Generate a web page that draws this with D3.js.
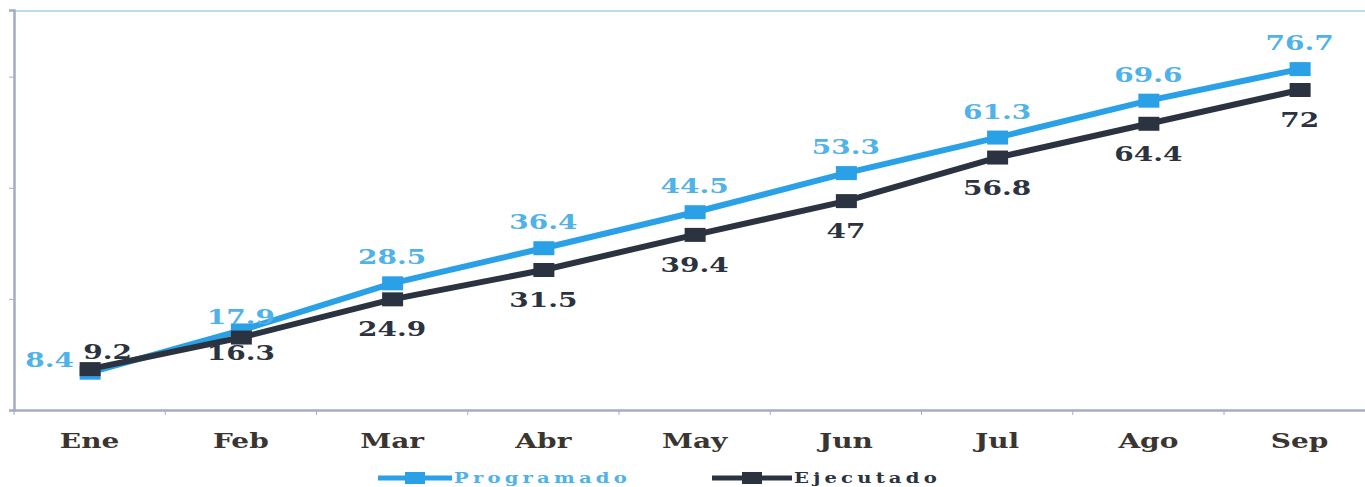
<!DOCTYPE html>
<html>
<head>
<meta charset="utf-8">
<script src="https://cdn.jsdelivr.net/npm/d3@7"></script>
<style>
  html, body { margin: 0; padding: 0; background: #fff; overflow: hidden; }
  svg { display: block; }
</style>
</head>
<body>
<svg id="chart" width="1365" height="487"></svg>
<script>
const categories = ["Ene", "Feb", "Mar", "Abr", "May", "Jun", "Jul", "Ago", "Sep"];
const programado = [8.4, 17.9, 28.5, 36.4, 44.5, 53.3, 61.3, 69.6, 76.7];
const ejecutado = [9.2, 16.3, 24.9, 31.5, 39.4, 47, 56.8, 64.4, 72];
const seriesNames = ["Programado", "Ejecutado"];
const yTicks = [0, 25, 50, 75];

const BLUE = "#2aa0e6", BLUE_TXT = "#4fb2e8", DARK = "#2c3340";
const FONT = "'DejaVu Serif', serif";
const SX = 1.4;

const svg = d3.select("#chart");
const x = d3.scaleBand().domain(categories).range([14, 14 + 9 * 151.25]).padding(0);
const y = d3.scaleLinear().domain([0, 90]).range([410, 10]);
const cx = c => x(c) + x.bandwidth() / 2;

// top border
svg.append("line").attr("x1", 14).attr("x2", 1365).attr("y1", 11).attr("y2", 11)
  .attr("stroke", "#b9dcef").attr("stroke-width", 2);

// y axis
const yAxis = svg.append("g").attr("transform", "translate(14,0)")
  .call(d3.axisLeft(y).tickValues(yTicks).tickSize(5).tickFormat(""));
yAxis.select(".domain").attr("stroke", "#a3acc4").attr("stroke-width", 2.5);
yAxis.selectAll(".tick line").attr("stroke", "#a3acc4");

// x axis
const xAxis = svg.append("g").attr("transform", "translate(0,410)")
  .call(d3.axisBottom(x).tickSize(0).tickFormat(""));
xAxis.select(".domain").attr("stroke", "#a3acc4").attr("stroke-width", 2.5);
xAxis.selectAll(".tick").remove();
xAxis.selectAll(".btick").data(categories).enter().append("line")
  .attr("x1", d => x(d)).attr("x2", d => x(d)).attr("y1", 0).attr("y2", 5)
  .attr("stroke", "#a3acc4");

// x labels
svg.append("g").selectAll("text").data(categories).enter().append("text")
  .attr("transform", d => `translate(${cx(d)},448) scale(${SX},1)`)
  .attr("text-anchor", "middle").attr("font-family", FONT).attr("font-weight", "bold")
  .attr("font-size", 20).attr("fill", "#3a3530").text(d => d);

const line = d3.line().x((d, i) => cx(categories[i])).y(d => y(d));

function drawSeries(vals, color) {
  svg.append("path").datum(vals).attr("d", line).attr("fill", "none")
    .attr("stroke", color).attr("stroke-width", 6).attr("stroke-linejoin", "round");
  svg.append("g").selectAll("rect").data(vals).enter().append("rect")
    .attr("x", (d, i) => cx(categories[i]) - 10).attr("y", d => y(d) - 7)
    .attr("width", 21).attr("height", 14).attr("fill", color);
}
drawSeries(programado, BLUE);
drawSeries(ejecutado, DARK);

function label(vals, color, pos) {
  svg.append("g").selectAll("text").data(vals).enter().append("text")
    .attr("transform", (d, i) => {
      let px = cx(categories[i]), py;
      if (pos === "above") {
        py = y(d) - (i < 2 ? 6 : 19);
        if (i === 0) px -= 40;
      } else {
        py = y(d) + (i < 2 ? 22 : 37);
        if (i === 0) { px += 18; py = y(d) - 10; }
      }
      return `translate(${px},${py}) scale(${SX},1)`;
    })
    .attr("text-anchor", "middle").attr("font-family", FONT).attr("font-weight", "bold")
    .attr("font-size", 20).attr("fill", color).text(d => d);
}
label(programado, BLUE_TXT, "above");
label(ejecutado, DARK, "below");

// legend
const legend = [
  { name: seriesNames[0], color: BLUE, txt: BLUE_TXT, x0: 378, x1: 452 },
  { name: seriesNames[1], color: DARK, txt: DARK, x0: 712, x1: 792 }
];
legend.forEach(l => {
  svg.append("line").attr("x1", l.x0).attr("x2", l.x1).attr("y1", 478).attr("y2", 478)
    .attr("stroke", l.color).attr("stroke-width", 5);
  svg.append("rect").attr("x", (l.x0 + l.x1) / 2 - 10).attr("y", 472)
    .attr("width", 20).attr("height", 12).attr("fill", l.color);
  svg.append("text").attr("transform", `translate(${l.x1 + 2},483) scale(${SX},1)`)
    .attr("font-family", FONT).attr("font-weight", "bold").attr("font-size", 14)
    .attr("letter-spacing", 3).attr("fill", l.txt).text(l.name);
});
</script>
</body>
</html>
